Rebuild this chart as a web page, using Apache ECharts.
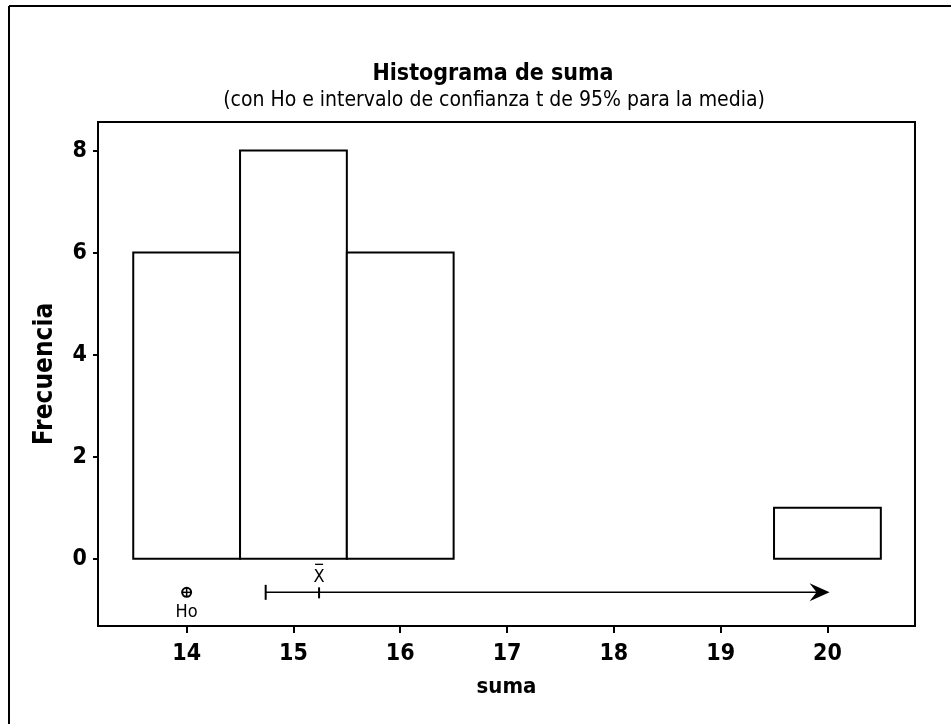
<!DOCTYPE html>
<html>
<head>
<meta charset="utf-8">
<title>Histograma de suma</title>
<script src="https://cdn.jsdelivr.net/npm/echarts@6/dist/echarts.min.js"></script>
<style>
  html, body { margin: 0; padding: 0; background: #fff; }
  #chart { width: 951px; height: 724px; }
</style>
</head>
<body>
<div id="chart"></div>
<script>
// Histogram bins (left edge, right edge) and their counts
const binStarts = [13.5, 14.5, 15.5, 19.5];
const binEnds = [14.5, 15.5, 16.5, 20.5];
const frequencies = [6, 8, 6, 1];

// Tick labels
const xTicks = [14, 15, 16, 17, 18, 19, 20];
const yTicks = [0, 2, 4, 6, 8];

// Hypothesised mean and one-sided 95% t interval for the mean
const hoValue = [14];
const ciLower = [14.74];
const sampleMean = [15.24];
const arrowEnd = [20.02];
const markerLevel = [-0.66];

const FONT = 'Tahoma, "DejaVu Sans Condensed", "Liberation Sans Narrow", "DejaVu Sans", sans-serif';

const chart = echarts.init(document.getElementById('chart'), null, { renderer: 'canvas' });

const barData = binStarts.map((s, i) => [s, binEnds[i], frequencies[i]]);

function renderBar(params, api) {
  const p0 = api.coord([api.value(0), api.value(2)]);
  const p1 = api.coord([api.value(1), 0]);
  return {
    type: 'rect',
    shape: { x: p0[0], y: p0[1], width: p1[0] - p0[0], height: p1[1] - p0[1] },
    style: { fill: '#fff', stroke: '#000', lineWidth: 2 }
  };
}

function renderInterval(params, api) {
  const lo = api.coord([api.value(0), api.value(3)]);
  const mid = api.coord([api.value(1), api.value(3)]);
  const hi = api.coord([api.value(2), api.value(3)]);
  const y = lo[1];
  return {
    type: 'group',
    children: [
      { type: 'line', shape: { x1: lo[0], y1: y, x2: hi[0] - 6, y2: y }, style: { stroke: '#000', lineWidth: 1.5 } },
      { type: 'line', shape: { x1: lo[0], y1: y - 7.5, x2: lo[0], y2: y + 7.5 }, style: { stroke: '#000', lineWidth: 2 } },
      { type: 'line', shape: { x1: mid[0], y1: y - 5, x2: mid[0], y2: y + 6 }, style: { stroke: '#000', lineWidth: 2 } },
      { type: 'polygon', shape: { points: [[hi[0], y], [hi[0] - 20, y - 9], [hi[0] - 13, y], [hi[0] - 20, y + 9]] }, style: { fill: '#000' } },
      { type: 'text', x: mid[0], y: y - 15, style: { text: 'X', fontSize: 18, fontFamily: FONT, fill: '#000', align: 'center', verticalAlign: 'middle' } },
      { type: 'line', shape: { x1: mid[0] - 4, y1: y - 28, x2: mid[0] + 4, y2: y - 28 }, style: { stroke: '#000', lineWidth: 1.3 } }
    ]
  };
}

function renderHo(params, api) {
  const c = api.coord([api.value(0), api.value(1)]);
  const r = 4.5;
  return {
    type: 'group',
    children: [
      { type: 'circle', shape: { cx: c[0], cy: c[1], r: r }, style: { fill: '#fff', stroke: '#000', lineWidth: 2 } },
      { type: 'line', shape: { x1: c[0] - r, y1: c[1], x2: c[0] + r, y2: c[1] }, style: { stroke: '#000', lineWidth: 1.5 } },
      { type: 'line', shape: { x1: c[0], y1: c[1] - r, x2: c[0], y2: c[1] + r }, style: { stroke: '#000', lineWidth: 1.5 } },
      { type: 'text', x: c[0], y: c[1] + 20, style: { text: 'Ho', fontSize: 18, fontFamily: FONT, fill: '#000', align: 'center', verticalAlign: 'middle' } }
    ]
  };
}

const option = {
  backgroundColor: '#fff',
  animation: false,
  title: [
    {
      text: 'Histograma de suma',
      left: 488, top: 58, textAlign: 'center',
      textStyle: { fontFamily: FONT, fontWeight: 'bold', fontSize: 23, color: '#000' }
    },
    {
      text: '(con Ho e intervalo de confianza t de 95% para la media)',
      left: 489, top: 85, textAlign: 'center',
      textStyle: { fontFamily: FONT, fontWeight: 'normal', fontSize: 21, color: '#000' }
    }
  ],
  graphic: [
    { type: 'line', shape: { x1: 9, y1: 6, x2: 951, y2: 6 }, style: { stroke: '#000', lineWidth: 2 } },
    { type: 'line', shape: { x1: 9, y1: 6, x2: 9, y2: 724 }, style: { stroke: '#000', lineWidth: 2 } }
  ],
  grid: {
    left: 98, right: 36, top: 122, bottom: 98,
    show: true, borderColor: '#000', borderWidth: 2, backgroundColor: '#fff'
  },
  xAxis: {
    type: 'value',
    min: 13.17, max: 20.82,
    name: 'suma', nameLocation: 'middle', nameGap: 50,
    nameTextStyle: { fontFamily: FONT, fontWeight: 'bold', fontSize: 22, color: '#000' },
    axisLine: { show: false, onZero: false },
    splitLine: { show: false },
    axisTick: { show: true, length: 7, lineStyle: { color: '#000', width: 2 }, customValues: xTicks },
    axisLabel: { fontFamily: FONT, fontWeight: 'bold', fontSize: 23, color: '#000', margin: 17, customValues: xTicks }
  },
  yAxis: {
    type: 'value',
    min: -1.32, max: 8.56,
    name: 'Frecuencia', nameLocation: 'middle', nameGap: 40, nameRotate: 90,
    nameTextStyle: { fontFamily: FONT, fontWeight: 'bold', fontSize: 26, color: '#000' },
    axisLine: { show: false, onZero: false },
    splitLine: { show: false },
    axisTick: { show: true, length: 5, lineStyle: { color: '#000', width: 2 }, customValues: yTicks },
    axisLabel: { fontFamily: FONT, fontWeight: 'bold', fontSize: 23, color: '#000', margin: 11, customValues: yTicks }
  },
  series: [
    {
      type: 'custom',
      renderItem: renderBar,
      data: barData,
      encode: { x: [0, 1], y: 2 },
      silent: true
    },
    {
      type: 'custom',
      renderItem: renderInterval,
      data: [[ciLower[0], sampleMean[0], arrowEnd[0], markerLevel[0]]],
      encode: { x: [0, 1, 2], y: 3 },
      silent: true
    },
    {
      type: 'custom',
      renderItem: renderHo,
      data: [[hoValue[0], markerLevel[0]]],
      encode: { x: 0, y: 1 },
      silent: true
    }
  ]
};

chart.setOption(option);
</script>
</body>
</html>
